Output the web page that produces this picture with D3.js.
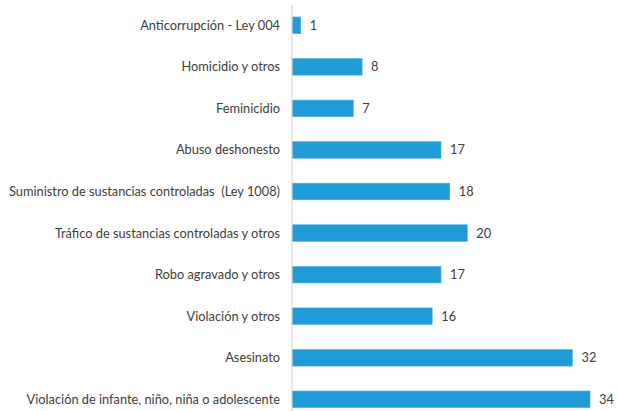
<!DOCTYPE html>
<html><head><meta charset="utf-8">
<script src="https://cdn.jsdelivr.net/npm/d3@7"></script>
<style>body{margin:0;background:#fff}svg{display:block}text{white-space:pre}</style>
</head><body>
<svg id="c" width="617" height="411"></svg>
<script>
const categories = ["Anticorrupción - Ley 004","Homicidio y otros","Feminicidio","Abuso deshonesto","Suministro de sustancias controladas  (Ley 1008)","Tráfico de sustancias controladas y otros","Robo agravado y otros","Violación y otros","Asesinato","Violación de infante, niño, niña o adolescente"];
const values = [1,8,7,17,18,20,17,16,32,34];

const svg = d3.select("#c");
const x = d3.scaleLinear().domain([0,34]).range([292,590]);
const y = d3.scaleBand().domain(categories).range([4.5,420.1]).paddingInner(0.6).paddingOuter(0.3);

svg.selectAll("rect.bar").data(values).join("rect")
  .attr("class","bar")
  .attr("x",x(0))
  .attr("y",(d,i)=>y(categories[i]))
  .attr("width",d=>x(d)-x(0))
  .attr("height",y.bandwidth())
  .attr("fill","#1f9bd7")
  .attr("stroke","#4fb3e3").attr("stroke-width",0.6);

svg.append("line").attr("x1",292).attr("x2",292).attr("y1",5).attr("y2",411)
  .attr("stroke","#d9d9d9").attr("stroke-width",1.2);

svg.selectAll("text.cat").data(categories).join("text")
  .attr("class","cat")
  .attr("x",280).attr("y",d=>y(d)+y.bandwidth()/2)
  .attr("dy","0.35em").attr("text-anchor","end")
  .attr("font-family","Lato, 'Open Sans', sans-serif").attr("font-size",12.8)
  .attr("fill","#404040").text(d=>d);

svg.selectAll("text.val").data(values).join("text")
  .attr("class","val")
  .attr("x",d=>x(d)+9).attr("y",(d,i)=>y(categories[i])+y.bandwidth()/2)
  .attr("dy","0.35em")
  .attr("font-family","Lato, 'Open Sans', sans-serif").attr("font-size",12.8)
  .attr("fill","#404040").text(d=>d);
</script>
</body></html>
